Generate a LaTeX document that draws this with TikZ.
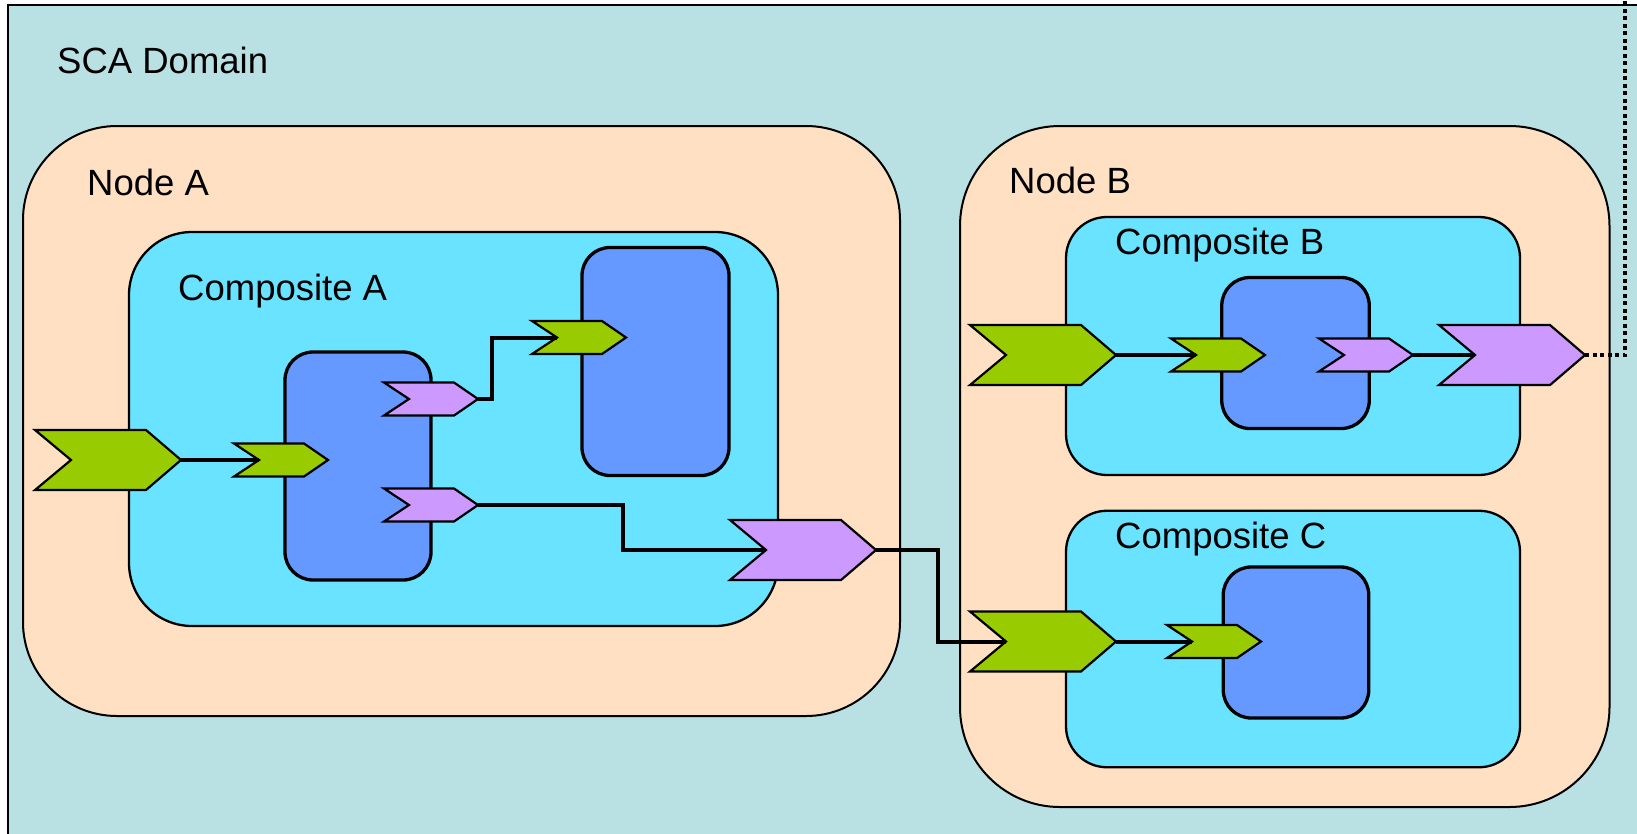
\documentclass[tikz,border=0pt]{standalone}
\usepackage{fontspec}
\setmainfont{Liberation Sans}
\usetikzlibrary{calc}

\definecolor{domainfill}{HTML}{B9E0E3}
\definecolor{nodefill}{HTML}{FFE0C3}
\definecolor{compfill}{HTML}{69E3FF}
\definecolor{partfill}{HTML}{6699FF}
\definecolor{svcgreen}{HTML}{99CC00}
\definecolor{refpurple}{HTML}{CC99FF}

\tikzset{
  x=1pt, y=-1pt,
  caption/.style={inner sep=0pt, anchor=base west, font=\fontsize{36.5}{44}\selectfont},
  nodebox/.style={draw, line width=2pt, fill=nodefill, inner sep=0pt, outer sep=0pt},
  compbox/.style={draw, line width=2.3pt, fill=compfill, inner sep=0pt, outer sep=0pt},
  partbox/.style={draw, line width=3.3pt, fill=partfill, inner sep=0pt, outer sep=0pt, rounded corners=28pt},
  greenchev/.style={draw, fill=svcgreen, line width=2.2pt, line join=miter},
  purplechev/.style={draw, fill=refpurple, line width=2.2pt, line join=miter},
  wire/.style={draw, line width=4pt, line join=miter},
  uplinkline/.style={draw, line width=4pt, dash pattern=on 4pt off 3.5pt},
  % large chevron: notch on the left, point on the right
  bigchev/.pic={
    \path[pic actions] (0,-30) -- (111,-30) -- (146,0) -- (111,30) -- (0,30) -- (36,0) -- cycle;
    \coordinate (-notch) at (36,0);
    \coordinate (-tip) at (146,0);
  },
  smallchev/.pic={
    \path[pic actions] (0,-16.5) -- (70,-16.5) -- (94,0) -- (70,16.5) -- (0,16.5) -- (25,0) -- cycle;
    \coordinate (-notch) at (25,0);
    \coordinate (-tip) at (94,0);
  },
}

\begin{document}
\begin{tikzpicture}
\useasboundingbox (0,0) rectangle (1637,833);
\clip (0,0) rectangle (1637,833);

% domain
\fill[domainfill] (7.5,5) rectangle (1650,845);
\draw[line width=2pt] (7.5,845) -- (7.5,5) -- (1650,5);
\node[caption] (domainlabel) at (57,73) {SCA Domain};

% Node A
\node[nodebox, rounded corners=94pt, minimum width=877pt, minimum height=590pt] (nodeA) at (461.5,421) {};
\node[caption] (nodeAlabel) at (87,195) {Node A};

% Composite A
\node[compbox, rounded corners=63pt, minimum width=649pt, minimum height=394pt] (compA) at (453.5,429) {};
\node[caption] (compAlabel) at (178,300) {Composite A};
\node[partbox, minimum width=146pt, minimum height=228pt] (partA1) at (358,466) {};
\node[partbox, minimum width=147pt, minimum height=228pt] (partA2) at (655.5,361.5) {};

% Node B
\node[nodebox, rounded corners=100pt, minimum width=649.5pt, minimum height=681pt] (nodeB) at (1284.75,466.5) {};
\node[caption] (nodeBlabel) at (1009,193.5) {Node B};

% Composite B
\node[compbox, rounded corners=41pt, minimum width=454pt, minimum height=258pt] (compB) at (1293,346) {};
\node[caption] (compBlabel) at (1115,254) {Composite B};
\node[partbox, minimum width=147.5pt, minimum height=151pt] (partB1) at (1295.5,353) {};

% Composite C
\node[compbox, rounded corners=41pt, minimum width=454pt, minimum height=256.5pt] (compC) at (1293,639) {};
\node[caption] (compCLabel) at (1115,548.5) {Composite C};
\node[partbox, minimum width=145.5pt, minimum height=151pt] (partC1) at (1296,642.5) {};

% services and references
\pic[greenchev] (gAin) at (35,460) {bigchev};
\pic[greenchev] (gA1) at (234,460) {smallchev};
\pic[purplechev] (pA1a) at (384,399) {smallchev};
\pic[purplechev] (pA1b) at (384,505) {smallchev};
\pic[greenchev] (gA2) at (532,337.5) {smallchev};
\pic[purplechev] (pAout) at (730,550) {bigchev};

\pic[greenchev] (gBin) at (970,355) {bigchev};
\pic[greenchev] (gB1) at (1171,355) {smallchev};
\pic[purplechev] (pB1) at (1319,355) {smallchev};
\pic[purplechev] (pBout) at (1439,355) {bigchev};

\pic[greenchev] (gCin) at (970,641.5) {bigchev};
\pic[greenchev] (gC1) at (1167,641.5) {smallchev};

% wires
\draw[wire] (gAin-tip) -- (gA1-notch);
\draw[wire] (pA1a-tip) -- ++(14,0) |- (gA2-notch);
\draw[wire] (pA1b-tip) -- ++(145,0) |- (pAout-notch);
\draw[wire] (pAout-tip) -- ++(62,0) |- (gCin-notch);
\draw[wire] (gCin-tip) -- (gC1-notch);
\draw[wire] (gBin-tip) -- (gB1-notch);
\draw[wire] (pB1-tip) -- (pBout-notch);

% link leaving the domain
\coordinate (uplink) at (1625,-5);
\draw[uplinkline] (pBout-tip) -| (uplink);
\end{tikzpicture}
\end{document}
